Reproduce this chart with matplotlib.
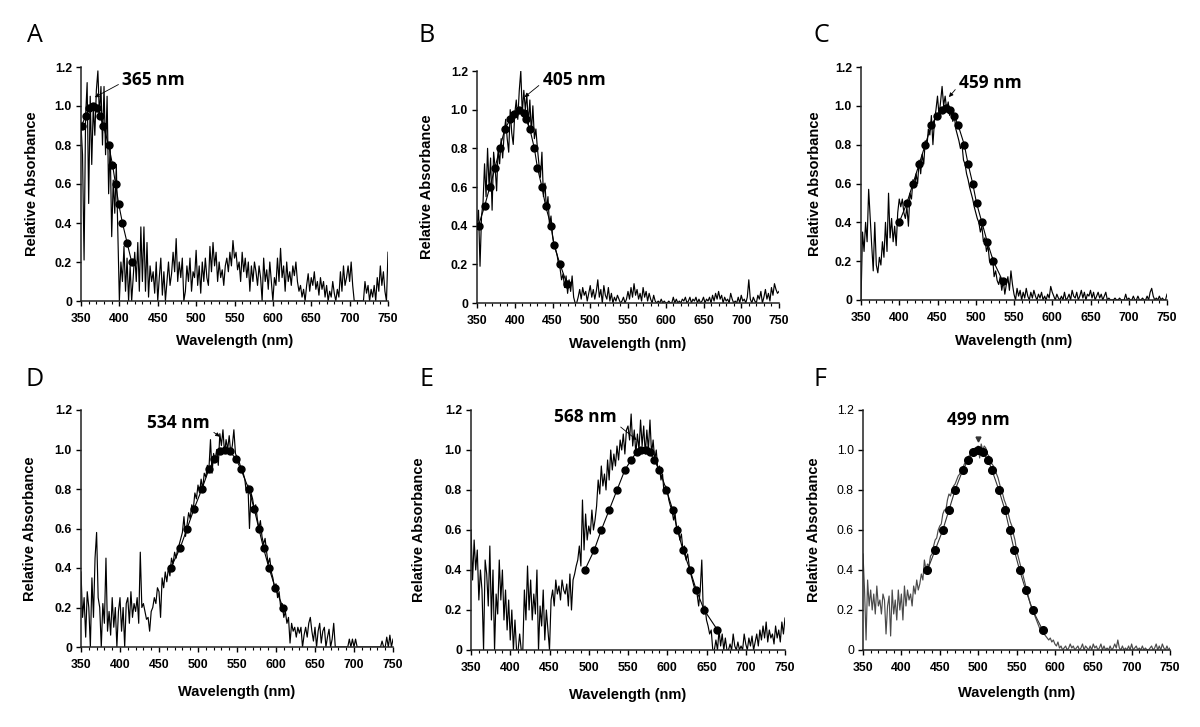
import matplotlib

matplotlib.use("Agg")
import matplotlib.pyplot as plt
import numpy as np
from matplotlib.ticker import FixedLocator, FuncFormatter, MultipleLocator

# ---------- data ---------- #
# measured spectra, sampled every 2 nm from 350 to 750 nm
WL = np.arange(350, 751, 2)

A_ABS = [
    0.90, 0.75, 0.21, 0.95, 1.12, 0.50, 1.05, 0.70, 1.00, 0.85, 1.08, 1.18, 0.95, 1.10, 0.80, 1.10, 0.75, 1.05, 0.55, 0.80,
    0.33, 0.62, 0.45, 0.70, 0.35, 0.00, 0.20, 0.10, 0.28, 0.05, 0.22, 0.00, 0.18, 0.00, 0.12, 0.25, 0.10, 0.30, 0.05, 0.38,
    0.10, 0.38, 0.05, 0.30, 0.02, 0.18, 0.10, 0.15, 0.04, 0.20, 0.00, 0.12, 0.22, 0.03, 0.15, 0.00, 0.10, 0.20, 0.08, 0.14,
    0.25, 0.15, 0.32, 0.10, 0.20, 0.12, 0.22, 0.00, 0.05, 0.18, 0.10, 0.22, 0.05, 0.15, 0.12, 0.26, 0.08, 0.18, 0.04, 0.20,
    0.10, 0.22, 0.12, 0.08, 0.28, 0.15, 0.30, 0.18, 0.25, 0.10, 0.20, 0.12, 0.16, 0.08, 0.18, 0.22, 0.15, 0.25, 0.18, 0.31,
    0.22, 0.25, 0.16, 0.20, 0.10, 0.25, 0.15, 0.22, 0.12, 0.20, 0.05, 0.18, 0.10, 0.20, 0.15, 0.08, 0.18, 0.12, 0.00, 0.22,
    0.10, 0.16, 0.06, 0.20, 0.10, 0.00, 0.12, 0.08, 0.22, 0.10, 0.27, 0.12, 0.18, 0.05, 0.20, 0.10, 0.15, 0.08, 0.18, 0.13,
    0.20, 0.10, 0.05, 0.08, 0.02, 0.06, 0.00, 0.08, 0.14, 0.05, 0.12, 0.08, 0.15, 0.06, 0.10, 0.03, 0.12, 0.06, 0.10, 0.02,
    0.08, 0.00, 0.05, 0.02, 0.10, 0.04, 0.00, 0.06, 0.02, 0.15, 0.05, 0.18, 0.08, 0.12, 0.18, 0.10, 0.20, 0.08, 0.00, 0.00,
    0.00, 0.00, 0.00, 0.00, 0.00, 0.10, 0.04, 0.08, 0.00, 0.06, 0.02, 0.08, 0.00, 0.12, 0.05, 0.18, 0.08, 0.15, 0.05, 0.00,
    0.25,
]
B_ABS = [
    0.40, 0.48, 0.19, 0.45, 0.52, 0.72, 0.55, 0.80, 0.60, 0.75, 0.48, 0.78, 0.70, 0.58, 0.80, 0.72, 0.85, 0.75, 0.88, 0.95,
    0.85, 0.78, 1.00, 0.88, 0.82, 0.98, 1.05, 0.95, 1.10, 1.20, 0.98, 1.10, 1.00, 1.08, 0.92, 1.05, 0.88, 1.02, 0.85, 0.90,
    0.80, 0.72, 0.65, 0.78, 0.55, 0.62, 0.48, 0.55, 0.40, 0.45, 0.35, 0.30, 0.28, 0.25, 0.20, 0.18, 0.12, 0.15, 0.08, 0.14,
    0.05, 0.12, 0.06, 0.14, 0.03, 0.00, 0.00, 0.03, 0.07, 0.02, 0.08, 0.04, 0.06, 0.01, 0.05, 0.09, 0.03, 0.07, 0.02, 0.06,
    0.12, 0.03, 0.07, 0.00, 0.09, 0.04, 0.02, 0.08, 0.01, 0.05, 0.00, 0.03, 0.01, 0.04, 0.02, 0.00, 0.01, 0.03, 0.00, 0.02,
    0.06, 0.02, 0.08, 0.03, 0.10, 0.04, 0.07, 0.02, 0.05, 0.01, 0.08, 0.03, 0.06, 0.01, 0.05, 0.02, 0.00, 0.04, 0.01, 0.00,
    0.01, 0.00, 0.02, 0.00, 0.01, 0.00, 0.00, 0.01, 0.00, 0.00, 0.03, 0.00, 0.02, 0.00, 0.01, 0.00, 0.02, 0.01, 0.03, 0.00,
    0.01, 0.03, 0.00, 0.02, 0.01, 0.03, 0.00, 0.02, 0.00, 0.01, 0.03, 0.00, 0.02, 0.01, 0.03, 0.00, 0.04, 0.01, 0.05, 0.02,
    0.06, 0.02, 0.04, 0.00, 0.03, 0.01, 0.02, 0.00, 0.05, 0.02, 0.00, 0.01, 0.00, 0.03, 0.00, 0.04, 0.01, 0.02, 0.00, 0.03,
    0.12, 0.02, 0.00, 0.03, 0.01, 0.00, 0.04, 0.02, 0.06, 0.00, 0.03, 0.07, 0.02, 0.05, 0.01, 0.08, 0.04, 0.10, 0.07, 0.05,
    0.06,
]
C_ABS = [
    0.00, 0.35, 0.25, 0.40, 0.30, 0.57, 0.42, 0.28, 0.15, 0.40, 0.18, 0.14, 0.22, 0.18, 0.30, 0.22, 0.40, 0.25, 0.55, 0.32,
    0.42, 0.30, 0.38, 0.28, 0.45, 0.52, 0.48, 0.52, 0.45, 0.42, 0.48, 0.38, 0.55, 0.52, 0.62, 0.58, 0.65, 0.60, 0.72, 0.65,
    0.75, 0.70, 0.82, 0.78, 0.88, 0.85, 0.95, 0.80, 0.92, 0.98, 1.05, 0.95, 1.02, 1.10, 1.00, 1.05, 0.98, 1.02, 0.95, 0.98,
    0.92, 0.95, 0.88, 0.85, 0.82, 0.78, 0.80, 0.72, 0.70, 0.65, 0.62, 0.58, 0.55, 0.52, 0.48, 0.45, 0.42, 0.40, 0.35, 0.38,
    0.30, 0.32, 0.25, 0.28, 0.20, 0.18, 0.22, 0.12, 0.15, 0.10, 0.08, 0.12, 0.05, 0.10, 0.03, 0.08, 0.12, 0.05, 0.15, 0.08,
    0.03, 0.00, 0.06, 0.02, 0.05, 0.00, 0.04, 0.01, 0.06, 0.02, 0.00, 0.04, 0.01, 0.05, 0.02, 0.00, 0.03, 0.01, 0.04, 0.00,
    0.02, 0.00, 0.03, 0.01, 0.07, 0.04, 0.02, 0.00, 0.03, 0.01, 0.00, 0.02, 0.00, 0.04, 0.00, 0.01, 0.03, 0.00, 0.05, 0.02,
    0.01, 0.04, 0.00, 0.02, 0.05, 0.01, 0.04, 0.00, 0.03, 0.02, 0.05, 0.01, 0.04, 0.00, 0.02, 0.04, 0.01, 0.03, 0.00, 0.02,
    0.04, 0.00, 0.01, 0.00, 0.00, 0.00, 0.01, 0.00, 0.00, 0.01, 0.00, 0.00, 0.00, 0.03, 0.00, 0.01, 0.00, 0.00, 0.02, 0.00,
    0.00, 0.02, 0.00, 0.00, 0.01, 0.00, 0.00, 0.02, 0.00, 0.04, 0.06, 0.02, 0.00, 0.01, 0.00, 0.02, 0.00, 0.01, 0.00, 0.00,
    0.03,
]
D_ABS = [
    0.38, 0.15, 0.25, 0.05, 0.28, 0.20, 0.00, 0.35, 0.15, 0.45, 0.58, 0.25, 0.20, 0.00, 0.22, 0.12, 0.45, 0.08, 0.18, 0.06,
    0.25, 0.10, 0.20, 0.00, 0.18, 0.25, 0.08, 0.20, 0.00, 0.22, 0.25, 0.12, 0.28, 0.15, 0.22, 0.18, 0.25, 0.12, 0.48, 0.20,
    0.22, 0.18, 0.14, 0.15, 0.08, 0.18, 0.20, 0.25, 0.22, 0.30, 0.28, 0.15, 0.35, 0.30, 0.38, 0.33, 0.40, 0.36, 0.45, 0.42,
    0.48, 0.45, 0.50, 0.52, 0.55, 0.58, 0.66, 0.56, 0.62, 0.68, 0.65, 0.72, 0.70, 0.78, 0.75, 0.82, 0.78, 0.85, 0.80, 0.88,
    0.86, 0.92, 0.90, 1.05, 0.88, 0.98, 0.95, 1.00, 0.92, 1.08, 1.02, 1.10, 0.98, 1.05, 1.00, 1.07, 0.98, 1.02, 1.10, 0.98,
    0.96, 0.95, 0.92, 0.90, 0.88, 0.85, 0.78, 0.82, 0.60, 0.78, 0.75, 0.70, 0.72, 0.65, 0.60, 0.64, 0.56, 0.52, 0.55, 0.48,
    0.42, 0.45, 0.38, 0.35, 0.30, 0.32, 0.25, 0.28, 0.20, 0.22, 0.15, 0.18, 0.12, 0.15, 0.02, 0.12, 0.08, 0.10, 0.05, 0.10,
    0.07, 0.10, 0.00, 0.06, 0.10, 0.05, 0.12, 0.15, 0.08, 0.03, 0.10, 0.00, 0.08, 0.12, 0.02, 0.08, 0.10, 0.00, 0.05, 0.09,
    0.00, 0.04, 0.12, 0.00, 0.00, 0.00, 0.00, 0.00, 0.00, 0.00, 0.00, 0.00, 0.04, 0.00, 0.04, 0.00, 0.04, 0.00, 0.00, 0.00,
    0.00, 0.00, 0.00, 0.00, 0.00, 0.00, 0.00, 0.00, 0.00, 0.00, 0.00, 0.00, 0.00, 0.03, 0.00, 0.00, 0.05, 0.00, 0.06, 0.00,
    0.04,
]
E_ABS = [
    0.60, 0.35, 0.55, 0.40, 0.50, 0.25, 0.40, 0.30, 0.00, 0.45, 0.38, 0.22, 0.52, 0.15, 0.40, 0.00, 0.28, 0.18, 0.45, 0.25,
    0.40, 0.15, 0.30, 0.10, 0.25, 0.05, 0.20, 0.00, 0.15, 0.00, 0.00, 0.08, 0.00, 0.00, 0.30, 0.15, 0.42, 0.20, 0.35, 0.15,
    0.28, 0.18, 0.40, 0.00, 0.22, 0.12, 0.30, 0.05, 0.20, 0.10, 0.00, 0.25, 0.30, 0.22, 0.35, 0.28, 0.32, 0.25, 0.35, 0.30,
    0.28, 0.33, 0.22, 0.38, 0.20, 0.35, 0.38, 0.42, 0.45, 0.52, 0.42, 0.75, 0.50, 0.68, 0.55, 0.62, 0.58, 0.70, 0.60, 0.65,
    0.72, 0.85, 0.78, 0.92, 0.82, 0.88, 0.80, 0.95, 0.85, 1.00, 0.90, 0.98, 0.92, 1.02, 0.95, 1.05, 1.00, 1.08, 0.98, 1.10,
    1.12, 1.05, 1.18, 1.02, 1.10, 0.98, 1.08, 1.00, 1.15, 1.02, 1.12, 0.98, 1.10, 1.00, 1.15, 0.98, 1.05, 0.95, 1.00, 0.90,
    0.92, 0.85, 0.88, 0.78, 0.82, 0.80, 0.75, 0.72, 0.70, 0.65, 0.68, 0.60, 0.62, 0.55, 0.58, 0.50, 0.52, 0.45, 0.48, 0.42,
    0.38, 0.35, 0.32, 0.30, 0.28, 0.22, 0.30, 0.45, 0.18, 0.22, 0.15, 0.12, 0.08, 0.10, 0.00, 0.00, 0.05, 0.00, 0.10, 0.02,
    0.08, 0.00, 0.06, 0.00, 0.00, 0.03, 0.00, 0.08, 0.02, 0.00, 0.04, 0.00, 0.02, 0.00, 0.08, 0.03, 0.00, 0.06, 0.02, 0.07,
    0.00, 0.04, 0.08, 0.02, 0.10, 0.05, 0.12, 0.06, 0.14, 0.04, 0.10, 0.06, 0.08, 0.03, 0.12, 0.06, 0.10, 0.04, 0.14, 0.08,
    0.16,
]
F_ABS = [
    0.48, 0.30, 0.05, 0.35, 0.22, 0.30, 0.20, 0.28, 0.18, 0.32, 0.22, 0.25, 0.18, 0.28, 0.25, 0.08, 0.22, 0.27, 0.07, 0.30,
    0.18, 0.25, 0.15, 0.30, 0.20, 0.28, 0.15, 0.32, 0.22, 0.30, 0.25, 0.28, 0.22, 0.32, 0.28, 0.35, 0.30, 0.33, 0.38, 0.35,
    0.45, 0.40, 0.43, 0.42, 0.47, 0.48, 0.52, 0.55, 0.56, 0.60, 0.62, 0.63, 0.68, 0.70, 0.70, 0.75, 0.78, 0.77, 0.80, 0.82,
    0.83, 0.85, 0.87, 0.88, 0.90, 0.91, 0.93, 0.94, 0.96, 0.97, 0.98, 0.99, 1.00, 1.01, 0.99, 1.02, 0.96, 1.03, 1.00, 1.02,
    1.01, 0.98, 0.97, 0.95, 0.93, 0.92, 0.90, 0.88, 0.86, 0.83, 0.80, 0.78, 0.75, 0.73, 0.70, 0.67, 0.64, 0.62, 0.58, 0.55,
    0.50, 0.47, 0.44, 0.41, 0.38, 0.35, 0.32, 0.29, 0.26, 0.23, 0.21, 0.19, 0.17, 0.15, 0.13, 0.11, 0.10, 0.09, 0.08, 0.07,
    0.06, 0.05, 0.06, 0.04, 0.05, 0.03, 0.02, 0.04, 0.01, 0.02, 0.00, 0.01, 0.02, 0.00, 0.01, 0.03, 0.01, 0.02, 0.00, 0.01,
    0.02, 0.00, 0.01, 0.03, 0.00, 0.02, 0.01, 0.00, 0.02, 0.00, 0.03, 0.01, 0.02, 0.00, 0.01, 0.03, 0.00, 0.02, 0.00, 0.01,
    0.00, 0.02, 0.00, 0.01, 0.03, 0.01, 0.05, 0.01, 0.00, 0.02, 0.00, 0.01, 0.00, 0.02, 0.00, 0.03, 0.00, 0.01, 0.02, 0.00,
    0.01, 0.00, 0.02, 0.00, 0.01, 0.00, 0.00, 0.01, 0.02, 0.00, 0.01, 0.03, 0.00, 0.02, 0.00, 0.03, 0.01, 0.00, 0.02, 0.00,
    0.01,
]

# template (nomogram) points drawn as dots
A_FIT_WL = [351, 356, 361, 366, 371, 375, 379, 386, 391, 395, 399, 404, 410, 416]
A_FIT_ABS = [0.90, 0.95, 0.99, 1.00, 0.99, 0.95, 0.90, 0.80, 0.70, 0.60, 0.50, 0.40, 0.30, 0.20]
B_FIT_WL = [352, 360, 367, 374, 380, 387, 394, 399, 406, 412, 415, 420, 426, 430, 436, 441, 448, 452, 460, 469]
B_FIT_ABS = [0.40, 0.50, 0.60, 0.70, 0.80, 0.90, 0.95, 0.98, 1.00, 0.985, 0.95, 0.90, 0.80, 0.70, 0.60, 0.50, 0.40, 0.30, 0.20, 0.10]
C_FIT_WL = [400, 410, 418, 426, 434, 442, 449, 456, 461, 466, 472, 477, 485, 490, 496, 501, 508, 515, 523, 535]
C_FIT_ABS = [0.40, 0.50, 0.60, 0.70, 0.80, 0.90, 0.95, 0.98, 0.99, 0.98, 0.95, 0.90, 0.80, 0.70, 0.60, 0.50, 0.40, 0.30, 0.20, 0.10]
D_FIT_WL = [465, 477, 486, 495, 505, 514, 521, 528, 534, 541, 549, 555, 565, 572, 578, 584, 591, 599, 609]
D_FIT_ABS = [0.40, 0.50, 0.60, 0.70, 0.80, 0.90, 0.95, 0.99, 1.00, 0.99, 0.95, 0.90, 0.80, 0.70, 0.60, 0.50, 0.40, 0.30, 0.20]
E_FIT_WL = [495, 507, 516, 526, 536, 546, 554, 561, 566, 573, 578, 583, 590, 599, 607, 613, 620, 629, 637, 647, 664]
E_FIT_ABS = [0.40, 0.50, 0.60, 0.70, 0.80, 0.90, 0.95, 0.99, 1.00, 1.00, 0.99, 0.95, 0.90, 0.80, 0.70, 0.60, 0.50, 0.40, 0.30, 0.20, 0.10]
F_FIT_WL = [434, 444, 454, 462, 470, 480, 487, 493, 500, 506, 513, 518, 527, 535, 541, 547, 554, 562, 571, 584]
F_FIT_ABS = [0.40, 0.50, 0.60, 0.70, 0.80, 0.90, 0.95, 0.99, 1.00, 0.99, 0.95, 0.90, 0.80, 0.70, 0.60, 0.50, 0.40, 0.30, 0.20, 0.10]

PEAK_LABELS = ["365 nm", "405 nm", "459 nm", "534 nm", "568 nm", "499 nm"]
PANEL_LETTERS = ["A", "B", "C", "D", "E", "F"]

# ---------- layout (pixels of a 1200x727 canvas) ---------- #
W, H = 1200, 727
# left, right, y of zero, y of 1.2
AX_PX = [
    (81, 388, 301, 67),
    (477, 779, 303, 71),
    (861, 1167, 300, 67),
    (81, 393, 647, 410),
    (471, 785, 650, 410),
    (863, 1170, 650, 410),
]
LETTER_PX = [(35, 36), (427, 36), (821, 36), (35, 379), (427, 380), (820, 380)]
YLAB_X = [32, 427, 815, 30, 419, 814]
XLAB_Y = [341, 344, 341, 692, 695, 693]

# annotation: text pos (data), arrow tip (data), text ha, arrow relpos
ANNOT = [
    ((404, 1.135), (368, 1.045), "left", (0.0, 0.35)),
    ((437, 1.155), (413, 1.065), "left", (0.0, 0.35)),
    ((478, 1.12), (465, 1.045), "left", (0.0, 0.35)),
    ((435, 1.135), (528, 1.065), "left", (0.97, 0.2)),
    ((456, 1.165), (561, 1.05), "left", (0.97, 0.2)),
    None,
]

TICK_FONT = ["Liberation Sans", "DejaVu Sans"]
LABEL_FONT = ["Open Sans", "DejaVu Sans"]


def fmt_y(v, _):
    return "0" if abs(v) < 1e-9 else f"{v:.1f}"


def draw_panel(fig, idx, spec, fit_wl, fit_abs):
    l, r, y0, y1 = AX_PX[idx]
    ax = fig.add_axes([l / W, 1 - y0 / H, (r - l) / W, (y0 - y1) / H])
    grey = idx == 5
    line_col = "#4a4a4a" if grey else "black"

    ax.plot(WL, spec, color=line_col, lw=0.85, zorder=2)
    ax.plot(fit_wl, fit_abs, color="black" if not grey else "#333333", lw=0.8,
            marker="o", ms=5.5 if grey else 5, mfc="black", mec="black", zorder=3)

    ax.set_xlim(350, 750)
    ax.set_ylim(0, 1.2)
    for s in ("top", "right"):
        ax.spines[s].set_visible(False)
    for s in ("left", "bottom"):
        ax.spines[s].set_linewidth(1.1)
        ax.spines[s].set_color("#222222")

    ax.xaxis.set_major_locator(MultipleLocator(50))
    ax.xaxis.set_minor_locator(MultipleLocator(10))
    ax.yaxis.set_major_locator(FixedLocator([0, 0.2, 0.4, 0.6, 0.8, 1.0, 1.2]))
    ax.yaxis.set_major_formatter(FuncFormatter(fmt_y))
    ax.tick_params(axis="x", which="major", direction="out", length=3.5, width=1, pad=5)
    ax.tick_params(axis="x", which="minor", direction="out", length=2, width=0.8)
    ax.tick_params(axis="y", which="major", direction="out", length=3.5, width=1, pad=3)
    for t in ax.get_xticklabels():
        t.set_fontfamily(TICK_FONT)
        t.set_fontweight("bold")
        t.set_fontsize(8.8)
    for t in ax.get_yticklabels():
        t.set_fontfamily(TICK_FONT)
        t.set_fontweight("normal" if grey else "bold")
        t.set_fontsize(8.8)

    # peak annotation
    ann = ANNOT[idx]
    if ann is None:
        ax.plot([500], [1.057], marker="v", ms=3.5, color="#333333", clip_on=False)
        ax.text(500, 1.15, PEAK_LABELS[idx], ha="center", va="center",
                fontsize=12.5, fontweight="bold", family=LABEL_FONT)
    else:
        txt, tip, ha, rel = ann
        ax.annotate(PEAK_LABELS[idx], xy=tip, xytext=txt, ha=ha, va="center",
                    fontsize=12.5, fontweight="bold", family=LABEL_FONT,
                    annotation_clip=False,
                    arrowprops=dict(arrowstyle="-|>", lw=0.6, color="black",
                                    mutation_scale=6, shrinkA=1, shrinkB=0,
                                    relpos=rel))

    # panel letter and axis labels
    lx, ly = LETTER_PX[idx]
    fig.text(lx / W, 1 - ly / H, PANEL_LETTERS[idx], ha="center", va="center",
             fontsize=18, family=LABEL_FONT)
    fig.text(YLAB_X[idx] / W, 1 - (y0 + y1) / 2 / H, "Relative Absorbance",
             rotation=90, ha="center", va="center", fontsize=10.5,
             fontweight="bold", family=TICK_FONT)
    fig.text((l + r) / 2 / W, 1 - XLAB_Y[idx] / H, "Wavelength (nm)",
             ha="center", va="center", fontsize=10.5, fontweight="bold",
             family=TICK_FONT)
    return ax


def main():
    fig = plt.figure(figsize=(W / 100, H / 100), dpi=100)
    panels = [
        (A_ABS, A_FIT_WL, A_FIT_ABS),
        (B_ABS, B_FIT_WL, B_FIT_ABS),
        (C_ABS, C_FIT_WL, C_FIT_ABS),
        (D_ABS, D_FIT_WL, D_FIT_ABS),
        (E_ABS, E_FIT_WL, E_FIT_ABS),
        (F_ABS, F_FIT_WL, F_FIT_ABS),
    ]
    for i, (spec, fw, fa) in enumerate(panels):
        draw_panel(fig, i, spec, fw, fa)
    fig.savefig("out.png", dpi=100, facecolor="white")


if __name__ == "__main__":
    main()
